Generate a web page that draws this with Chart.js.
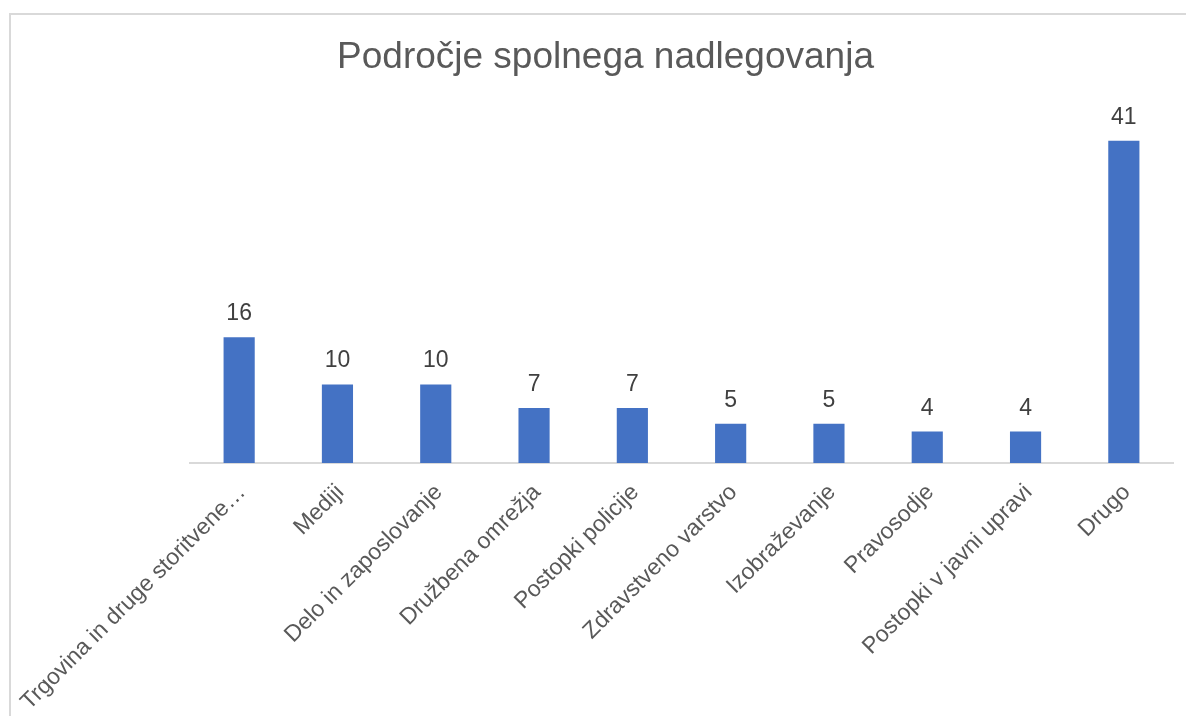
<!DOCTYPE html>
<html>
<head>
<meta charset="utf-8">
<script src="https://cdn.jsdelivr.net/npm/chart.js@4/dist/chart.umd.min.js"></script>
<style>
  body { margin: 0; background: #fff; }
  #frame { position: absolute; left: 9px; top: 13px; width: 1190px; height: 720px; border: 2px solid #d9d9d9; box-sizing: border-box; }
  #chart { position: absolute; left: 0; top: 0; }
</style>
</head>
<body>
<div id="frame"></div>
<canvas id="chart" width="1186" height="716"></canvas>
<script>
const categories = [
  "Trgovina in druge storitvene…",
  "Mediji",
  "Delo in zaposlovanje",
  "Družbena omrežja",
  "Postopki policije",
  "Zdravstveno varstvo",
  "Izobraževanje",
  "Pravosodje",
  "Postopki v javni upravi",
  "Drugo"
];
const counts = [16, 10, 10, 7, 7, 5, 5, 4, 4, 41];
const chartTitle = "Področje spolnega nadlegovanja";

// draw the value above each bar
const valueLabels = {
  id: "valueLabels",
  afterDatasetsDraw(chart) {
    const ctx = chart.ctx;
    const meta = chart.getDatasetMeta(0);
    ctx.save();
    ctx.font = "23px 'Liberation Sans', Arial, sans-serif";
    ctx.fillStyle = "#404040";
    ctx.textAlign = "center";
    ctx.textBaseline = "alphabetic";
    meta.data.forEach((bar, i) => {
      ctx.fillText(String(counts[i]), bar.x, bar.y - 17);
    });
    ctx.restore();
  }
};

document.addEventListener("DOMContentLoaded", function() {
  const ctx = document.querySelector("#chart").getContext("2d");
  new Chart(ctx, {
    type: "bar",
    data: {
      labels: categories,
      datasets: [{
        data: counts,
        backgroundColor: "#4472c4",
        barPercentage: 1,
        categoryPercentage: 0.317
      }]
    },
    options: {
      responsive: false,
      animation: false,
      layout: { padding: { left: 38, right: 13, top: 0, bottom: 0 } },
      plugins: {
        legend: { display: false },
        tooltip: { enabled: false },
        title: {
          display: true,
          text: chartTitle,
          color: "#595959",
          font: { family: "'Liberation Sans', Arial, sans-serif", size: 37, weight: "normal" },
          padding: { top: 36, bottom: 29 }
        }
      },
      scales: {
        x: {
          grid: { display: false, drawTicks: false },
          border: { display: true, color: "#d9d9d9", width: 2 },
          ticks: {
            color: "#595959",
            font: { family: "'Liberation Sans', Arial, sans-serif", size: 23 },
            minRotation: 45,
            maxRotation: 45,
            autoSkip: false,
            padding: 16,
            labelOffset: 3
          },
          afterFit(scale) {
            // fixed room for the rotated labels, as in the reference
            scale.paddingLeft = 190;
            scale.paddingRight = 13;
            scale.height = 253;
          }
        },
        y: {
          display: false,
          min: 0,
          max: 45
        }
      }
    },
    plugins: [valueLabels]
  });
});
</script>
</body>
</html>
